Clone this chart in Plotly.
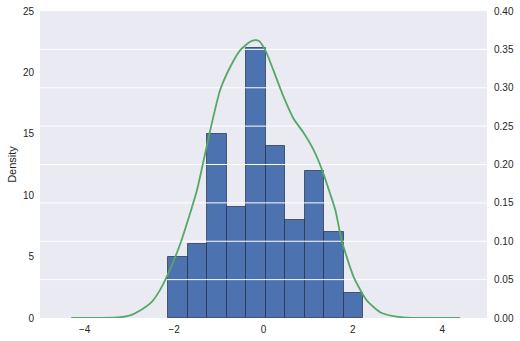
import plotly.graph_objects as go

# Histogram data (left axis)
bin_edges = [-2.127, -1.692, -1.256, -0.821, -0.386, 0.049, 0.484, 0.920, 1.355, 1.790, 2.225]
counts = [5, 6, 15, 9, 22, 14, 8, 12, 7, 2]

# KDE curve (right axis)
kde_x = [-4.30, -3.6, -3.2, -3.0, -2.76, -2.5, -2.32, -2.13, -1.86, -1.65, -1.49, -1.19, -0.97,
         -0.745, -0.52, -0.3, -0.19, -0.1, 0.04, 0.22, 0.45, 0.67, 0.90, 1.12, 1.31, 1.49, 1.61,
         1.75, 2.02, 2.31, 2.61, 2.91, 3.21, 3.6, 4.40]
kde_y = [0.0, 0.0001, 0.001, 0.003, 0.0098, 0.021, 0.036, 0.058, 0.097, 0.135, 0.166, 0.245, 0.297,
         0.327, 0.349, 0.360, 0.362, 0.361, 0.349, 0.323, 0.288, 0.260, 0.241, 0.219, 0.193, 0.162,
         0.140, 0.101, 0.053, 0.023, 0.0076, 0.0024, 0.0005, 0.0001, 0.0]

x_ticks = [-4, -2, 0, 2, 4]
left_ticks = [0, 5, 10, 15, 20, 25]
right_ticks = [0.00, 0.05, 0.10, 0.15, 0.20, 0.25, 0.30, 0.35, 0.40]
x_range = [-5, 5]

centers = [(a + b) / 2 for a, b in zip(bin_edges[:-1], bin_edges[1:])]
widths = [b - a for a, b in zip(bin_edges[:-1], bin_edges[1:])]

font_family = "Liberation Sans, Arial, sans-serif"
text_color = "#262626"

fig = go.Figure()
fig.add_trace(go.Bar(
    x=centers, y=counts, width=widths,
    marker=dict(color="#4C72B0", line=dict(color="rgba(35,45,70,0.7)", width=1)),
    yaxis="y", xaxis="x", showlegend=False, hoverinfo="skip",
))

# gridlines of the twin axis drawn above the bars
gx, gy = [], []
for t in right_ticks[1:-1]:
    gx += [x_range[0], x_range[1], None]
    gy += [t, t, None]
fig.add_trace(go.Scatter(
    x=gx, y=gy, mode="lines", line=dict(color="white", width=1),
    yaxis="y2", showlegend=False, hoverinfo="skip",
))

fig.add_trace(go.Scatter(
    x=kde_x, y=kde_y, mode="lines", line=dict(color="#55A868", width=1.8, shape="spline", smoothing=0.6),
    yaxis="y2", showlegend=False, hoverinfo="skip",
))

fig.update_layout(
    width=520, height=341,
    margin=dict(l=40, r=33, t=11, b=23, autoexpand=False),
    paper_bgcolor="white", plot_bgcolor="#EAEAF2",
    font=dict(family=font_family, size=10, color=text_color),
    bargap=0,
    xaxis=dict(range=x_range, tickvals=x_ticks, showgrid=False, zeroline=False, automargin=False,
               showline=False, ticks="", ticklabelstandoff=4, tickfont=dict(size=10, color=text_color)),
    yaxis=dict(range=[0, 25], tickvals=left_ticks, showgrid=False, zeroline=False, automargin=False,
               showline=False, ticks="", ticklabelstandoff=5,
               title=dict(text="Density", font=dict(size=11, color=text_color), standoff=4),
               tickfont=dict(size=10, color=text_color)),
    yaxis2=dict(range=[0, 0.40], tickvals=right_ticks, tickformat=".2f", overlaying="y", side="right",
                showgrid=False, zeroline=False, showline=False, ticks="", ticklabelstandoff=6,
                automargin=False, tickfont=dict(size=10, color=text_color)),
)

fig.write_html("out.html")
